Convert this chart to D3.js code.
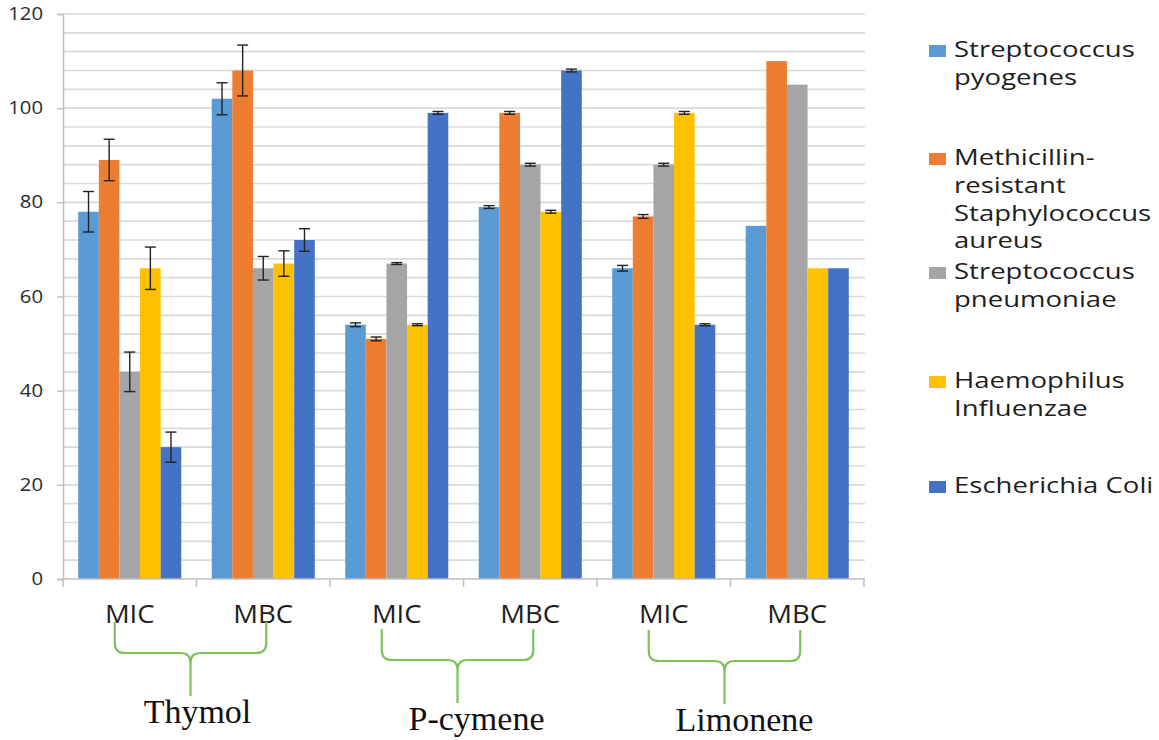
<!DOCTYPE html>
<html>
<head>
<meta charset="utf-8">
<script src="https://cdn.jsdelivr.net/npm/d3@7"></script>
<style>
html,body{margin:0;padding:0;background:#fff;}
svg{display:block;}
</style>
</head>
<body>
<svg id="chart" width="1159" height="740"></svg>
<script>
// ---------- data ----------
const compounds = ["Thymol", "P-cymene", "Limonene"];
const measures = ["MIC", "MBC", "MIC", "MBC", "MIC", "MBC"];
const seriesNames = ["Streptococcus pyogenes", "Methicillin-resistant Staphylococcus aureus",
  "Streptococcus pneumoniae", "Haemophilus Influenzae", "Escherichia Coli"];
const legendLines = [["Streptococcus", "pyogenes"], ["Methicillin-", "resistant", "Staphylococcus", "aureus"],
  ["Streptococcus", "pneumoniae"], ["Haemophilus", "Influenzae"], ["Escherichia Coli"]];
const sPyogenes   = [78, 102, 54, 79, 66, 75];
const mrsa        = [89, 108, 51, 99, 77, 110];
const sPneumoniae = [44, 66, 67, 88, 88, 105];
const hInfluenzae = [66, 67, 54, 78, 99, 66];
const eColi       = [28, 72, 99, 108, 54, 66];
const errPyogenes   = [4.3, 3.4, 0.4, 0.3, 0.6, 0];
const errMrsa       = [4.4, 5.4, 0.4, 0.3, 0.4, 0];
const errPneumoniae = [4.2, 2.5, 0.2, 0.3, 0.3, 0];
const errInfluenzae = [4.5, 2.7, 0.2, 0.3, 0.3, 0];
const errEColi      = [3.2, 2.4, 0.3, 0.3, 0.2, 0];
const yTicks = [0, 20, 40, 60, 80, 100, 120];

// ---------- styles / layout ----------
const colors = ["#5B9BD5", "#ED7D31", "#A5A5A5", "#FFC000", "#4472C4"];
const seriesValues = [sPyogenes, mrsa, sPneumoniae, hInfluenzae, eColi];
const seriesErrors = [errPyogenes, errMrsa, errPneumoniae, errInfluenzae, errEColi];
const plotLeft = 63, plotRight = 864, plotTop = 14, plotBottom = 579;

const svg = d3.select("#chart");
const idx = d3.range(measures.length);
const x0 = d3.scaleBand().domain(idx).range([plotLeft, plotRight]).paddingInner(0.228).paddingOuter(0.114);
const x1 = d3.scaleBand().domain(d3.range(seriesNames.length)).range([0, x0.bandwidth()]);
const y = d3.scaleLinear().domain([0, 120]).range([plotBottom, plotTop]);

// gridlines (every 4 units)
const gridVals = d3.range(4, 121, 4);
svg.append("g").selectAll("line").data(gridVals).join("line")
  .attr("x1", plotLeft).attr("x2", plotRight + 1)
  .attr("y1", d => y(d)).attr("y2", d => y(d))
  .attr("stroke", "#DADADA").attr("stroke-width", 1.6);

// y axis
const yAxis = svg.append("g").attr("transform", `translate(${plotLeft},0)`)
  .call(d3.axisLeft(y).tickValues(yTicks).tickSize(6).tickPadding(14).tickFormat(d3.format("d")));
yAxis.select(".domain").attr("stroke", "#BFBFBF").attr("stroke-width", 1.5);
yAxis.selectAll(".tick line").attr("stroke", "#BFBFBF").attr("stroke-width", 1.5);
yAxis.selectAll(".tick text")
  .attr("font-family", "'Open Sans', sans-serif").attr("font-size", 17.5).attr("fill", "#2a2a2a")
  .attr("x", 0)
  .attr("transform", "translate(-20,0) scale(1.16,1)");

// bars
const gBars = svg.append("g");
idx.forEach(i => {
  const g = gBars.append("g").attr("transform", `translate(${x0(i)},0)`);
  seriesValues.forEach((vals, s) => {
    g.append("rect")
      .attr("x", x1(s)).attr("width", x1.bandwidth())
      .attr("y", y(vals[i])).attr("height", y(0) - y(vals[i]))
      .attr("fill", colors[s]);
  });
  seriesValues.forEach((vals, s) => {
    const e = seriesErrors[s][i];
    if (!e) return;
    const cx = x1(s) + x1.bandwidth() / 2;
    const cw = 5.5;
    const eg = g.append("g").attr("stroke", "#222").attr("stroke-width", 1.4);
    eg.append("line").attr("x1", cx).attr("x2", cx).attr("y1", y(vals[i] + e)).attr("y2", y(vals[i] - e));
    eg.append("line").attr("x1", cx - cw).attr("x2", cx + cw).attr("y1", y(vals[i] + e)).attr("y2", y(vals[i] + e));
    eg.append("line").attr("x1", cx - cw).attr("x2", cx + cw).attr("y1", y(vals[i] - e)).attr("y2", y(vals[i] - e));
  });
});

// x axis line + ticks at band boundaries
const gx = svg.append("g").attr("stroke", "#BFBFBF").attr("stroke-width", 1.5);
gx.append("line").attr("x1", plotLeft).attr("x2", plotRight + 1).attr("y1", plotBottom).attr("y2", plotBottom);
const step = x0.step();
d3.range(measures.length + 1).forEach(k => {
  const xx = plotLeft + k * step;
  gx.append("line").attr("x1", xx).attr("x2", xx).attr("y1", plotBottom).attr("y2", plotBottom + 8);
});

// category labels
idx.forEach(i => {
  const cx = x0(i) + x0.bandwidth() / 2;
  svg.append("text")
    .attr("transform", `translate(${cx},623) scale(1.1,1)`)
    .attr("text-anchor", "middle")
    .attr("font-family", "'Open Sans', sans-serif").attr("font-size", 25).attr("fill", "#1e1e1e")
    .text(measures[i]);
});

// braces and compound labels
const braceDrop = [0, 7, 8];
const labelShift = [7, 19, 20];
compounds.forEach((c, k) => {
  const c1 = x0(2 * k) + x0.bandwidth() / 2;
  const c2 = x0(2 * k + 1) + x0.bandwidth() / 2;
  const L = c1 - 15, R = c2 + 3, cx = (L + R) / 2;
  const d = braceDrop[k];
  const t = 622 + d, h = 653 + d, tip = 696 + d, r = 10;
  const p = d3.path();
  p.moveTo(L, t); p.lineTo(L, h - r); p.quadraticCurveTo(L, h, L + r, h);
  p.lineTo(cx - r, h); p.quadraticCurveTo(cx, h, cx, h + r); p.lineTo(cx, tip);
  p.moveTo(R, t); p.lineTo(R, h - r); p.quadraticCurveTo(R, h, R - r, h);
  p.lineTo(cx + r, h); p.quadraticCurveTo(cx, h, cx, h + r);
  svg.append("path").attr("d", p.toString()).attr("fill", "none")
    .attr("stroke", "#7DC35A").attr("stroke-width", 2.2);
  svg.append("text")
    .attr("x", cx + labelShift[k]).attr("y", 723 + d)
    .attr("text-anchor", "middle")
    .attr("font-family", "'Liberation Serif', 'Times New Roman', serif")
    .attr("font-size", 34).attr("fill", "#111")
    .text(c);
});

// legend
const legBase = [57, 165, 279, 388, 493];
const lg = svg.append("g");
seriesNames.forEach((name, s) => {
  const b = legBase[s];
  lg.append("rect").attr("x", 929).attr("y", b - 12).attr("width", 17).attr("height", 12)
    .attr("fill", colors[s]);
  legendLines[s].forEach((line, j) => {
    lg.append("text")
      .attr("transform", `translate(954,${b + j * 27.8}) scale(1.28,1)`)
      .attr("font-family", "'Open Sans', sans-serif").attr("font-size", 21.5).attr("fill", "#1e1e1e")
      .text(line);
  });
});
</script>
</body>
</html>
